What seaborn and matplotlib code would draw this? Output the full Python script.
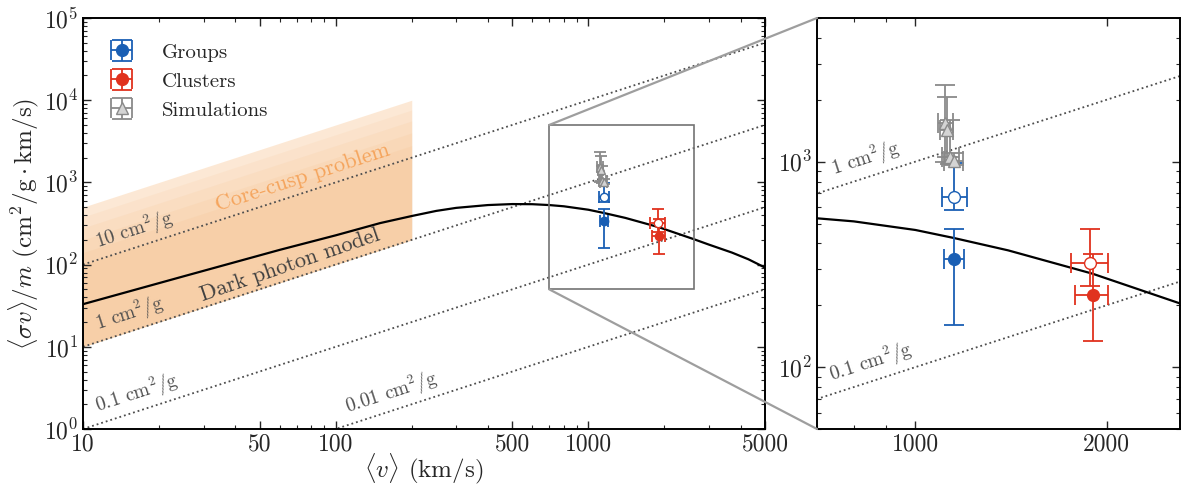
import matplotlib
matplotlib.use('Agg')
import numpy as np
import matplotlib.pyplot as plt
import seaborn as sns
from matplotlib.patches import Rectangle, ConnectionPatch
from matplotlib.ticker import FixedLocator, FixedFormatter, NullFormatter, LogLocator

# dark photon model curve
model_v = [10, 25, 60, 100, 150, 200, 250, 300, 400, 500, 600, 700, 800, 1000,
           1150, 1400, 1900, 2600, 3000, 3700, 4300, 5000]
model_sv = [33, 72, 151, 227, 320, 390, 450, 490, 530, 545, 543, 530, 512, 465,
            425, 370, 285, 205, 175, 140, 116, 92]

# constant cross sections (cm^2/g)
sigma_vals = [10, 1, 0.1, 0.01]
sigma_text = [r'10 $\mathrm{cm}^2/\mathrm{g}$', r'1 $\mathrm{cm}^2/\mathrm{g}$',
              r'0.1 $\mathrm{cm}^2/\mathrm{g}$', r'0.01 $\mathrm{cm}^2/\mathrm{g}$']
sigma_text_v = [11.7, 11.7, 11.7, 114]
line_v = [10, 5000]

# core-cusp band: 1 .. 50 cm^2/g for 10 < v < 200
band_v = [10, 200]
band_lo = 1
band_hi = [50, 38, 28, 20, 14, 10]

# groups
groups_v = [1150, 1150]
groups_sv = [670, 336]
groups_v_lo = [47, 42]
groups_v_hi = [54, 42]
groups_sv_lo = [88, 175]
groups_sv_hi = [310, 133]
groups_filled = [False, True]

# clusters
clusters_v = [1885, 1905]
clusters_sv = [320, 225]
clusters_v_lo = [126, 119]
clusters_v_hi = [124, 104]
clusters_sv_lo = [73, 91]
clusters_sv_hi = [149, 130]
clusters_filled = [False, True]

# simulations
sims_v = [1115, 1120, 1135, 1150]
sims_sv = [1540, 1420, 1050, 1010]
sims_v_lo = [30, 25, 35, 40]
sims_v_hi = [30, 25, 35, 40]
sims_sv_lo = [540, 370, 80, 50]
sims_sv_hi = [820, 650, 550, 90]

blue = '#1a5fb4'
red = '#e0321e'
gray = '#8a8a8a'
orange = '#f59a40'

sns.set_style('ticks')
plt.rcParams['font.family'] = ['cmr10', 'DejaVu Serif']
plt.rcParams['mathtext.fontset'] = 'cm'
plt.rcParams['axes.formatter.use_mathtext'] = True
plt.rcParams['axes.unicode_minus'] = False

fig = plt.figure(figsize=(11.81, 4.88), dpi=100)
ax = fig.add_axes([83 / 1181, 1 - 429 / 488, (765 - 83) / 1181, (429 - 18) / 488])
ax2 = fig.add_axes([817 / 1181, 1 - 429 / 488, (1180 - 817) / 1181, (429 - 18) / 488])


def draw_set(a, v, sv, vlo, vhi, slo, shi, filled, color, face, marker, label, ms, cs):
    for i in range(len(v)):
        mfc = color if filled[i] else face
        a.errorbar(v[i], sv[i], xerr=[[vlo[i]], [vhi[i]]], yerr=[[slo[i]], [shi[i]]],
                   fmt=marker, color=color, mfc=mfc, mec=color, ms=ms, capsize=cs,
                   elinewidth=1.3, capthick=1.3, zorder=5,
                   label=label if i == len(v) - 1 else None)


def draw_all(a, ms, cs):
    for c in sigma_vals:
        sns.lineplot(x=line_v, y=[c * line_v[0], c * line_v[1]], ax=a, color='0.3',
                     linestyle=':', linewidth=1.3, zorder=2)
    sns.lineplot(x=model_v, y=model_sv, ax=a, color='k', linewidth=1.6, zorder=3)
    draw_set(a, groups_v, groups_sv, groups_v_lo, groups_v_hi, groups_sv_lo, groups_sv_hi,
             groups_filled, blue, 'white', 'o', 'Groups', ms, cs)
    draw_set(a, clusters_v, clusters_sv, clusters_v_lo, clusters_v_hi, clusters_sv_lo,
             clusters_sv_hi, clusters_filled, red, 'white', 'o', 'Clusters', ms, cs)
    draw_set(a, sims_v, sims_sv, sims_v_lo, sims_v_hi, sims_sv_lo, sims_sv_hi,
             [False] * len(sims_v), gray, '#d4d4d4', '^', 'Simulations', ms, cs)


# band with soft gradient towards the top
for k, hi in enumerate(band_hi):
    ax.fill_between(band_v, [band_lo * band_v[0], band_lo * band_v[1]],
                    [hi * band_v[0], hi * band_v[1]], color=orange,
                    alpha=0.22 if k == 0 else 0.065, linewidth=0, zorder=0)

draw_all(ax, 6, 4)
draw_all(ax2, 8.5, 7)

for a in (ax, ax2):
    a.set_xscale('log')
    a.set_yscale('log')
    a.tick_params(which='both', direction='in', top=True, right=True, labelsize=17)
    a.tick_params(which='major', length=6, width=1.0)
    a.tick_params(which='minor', length=3, width=0.8)
    for s in a.spines.values():
        s.set_linewidth(1.4)
        s.set_color('k')

ax.set_xlim(10, 5000)
ax.set_ylim(1, 1e5)
ax.xaxis.set_major_locator(FixedLocator([10, 50, 100, 500, 1000, 5000]))
ax.xaxis.set_major_formatter(FixedFormatter(['10', '50', '100', '500', '1000', '5000']))
ax.xaxis.set_minor_locator(LogLocator(subs=np.arange(2, 10)))
ax.xaxis.set_minor_formatter(NullFormatter())
ax.yaxis.set_major_locator(LogLocator(numticks=10))
ax.yaxis.set_minor_locator(LogLocator(subs=np.arange(2, 10), numticks=20))
ax.yaxis.set_minor_formatter(NullFormatter())

xl = (700, 2610)
yl = (50, 5000)
ax2.set_xlim(*xl)
ax2.set_ylim(*yl)
ax2.xaxis.set_major_locator(FixedLocator([1000, 2000]))
ax2.xaxis.set_major_formatter(FixedFormatter(['1000', '2000']))
ax2.xaxis.set_minor_locator(LogLocator(subs=np.arange(2, 10)))
ax2.xaxis.set_minor_formatter(NullFormatter())
ax2.yaxis.set_minor_locator(LogLocator(subs=np.arange(2, 10), numticks=20))
ax2.yaxis.set_minor_formatter(NullFormatter())

ax.set_xlabel(r'$\langle v \rangle$ (km/s)', fontsize=18, labelpad=-3)
ax.set_ylabel(r'$\langle \sigma v \rangle / m$ ($\mathrm{cm}^2/\mathrm{g} \cdot \mathrm{km/s}$)',
              fontsize=18, labelpad=2)
ax2.set_xlabel('')
ax2.set_ylabel('')

# labels along the lines
for c, t, v0 in zip(sigma_vals, sigma_text, sigma_text_v):
    ax.text(v0, c * v0 * 1.12, t, fontsize=14, color='0.3', rotation=18,
            rotation_mode='anchor', ha='left', va='bottom', zorder=4)
ax2.text(750, 1 * 750 * 1.06, sigma_text[1], fontsize=14, color='0.3', rotation=18,
         rotation_mode='anchor', ha='left', va='bottom', zorder=4)
ax2.text(745, 0.1 * 745 * 1.06, sigma_text[2], fontsize=14, color='0.3', rotation=18,
         rotation_mode='anchor', ha='left', va='bottom', zorder=4)
ax.text(74, 1160, 'Core-cusp problem', fontsize=16, color='#f5a45c', rotation=18,
        rotation_mode='anchor', ha='center', va='center', zorder=4)
ax.text(66, 99, 'Dark photon model', fontsize=16, color='0.25', rotation=19,
        rotation_mode='anchor', ha='center', va='center', zorder=4)

# zoom box and connectors
ax.add_patch(Rectangle((xl[0], yl[0]), xl[1] - xl[0], yl[1] - yl[0], fill=False,
                       edgecolor='0.45', linewidth=1.2, zorder=6))
for yy, fy in ((yl[1], 1), (yl[0], 0)):
    con = ConnectionPatch(xyA=(xl[0], yy), coordsA=ax.transData, xyB=(0, fy),
                          coordsB=ax2.transAxes, color='0.62', linewidth=1.6)
    fig.add_artist(con)

# legend uses the larger-cap handles of the zoom panel
handles, labels = ax2.get_legend_handles_labels()
order = [labels.index(n) for n in ('Groups', 'Clusters', 'Simulations')]
ax.legend([handles[i] for i in order], [labels[i] for i in order], loc='upper left',
          bbox_to_anchor=(0.0, 1.0), frameon=False, fontsize=15, handlelength=1.3,
          handletextpad=1.3, labelspacing=0.5, borderpad=0.6, borderaxespad=0.6)

fig.savefig('out.png', dpi=100)
